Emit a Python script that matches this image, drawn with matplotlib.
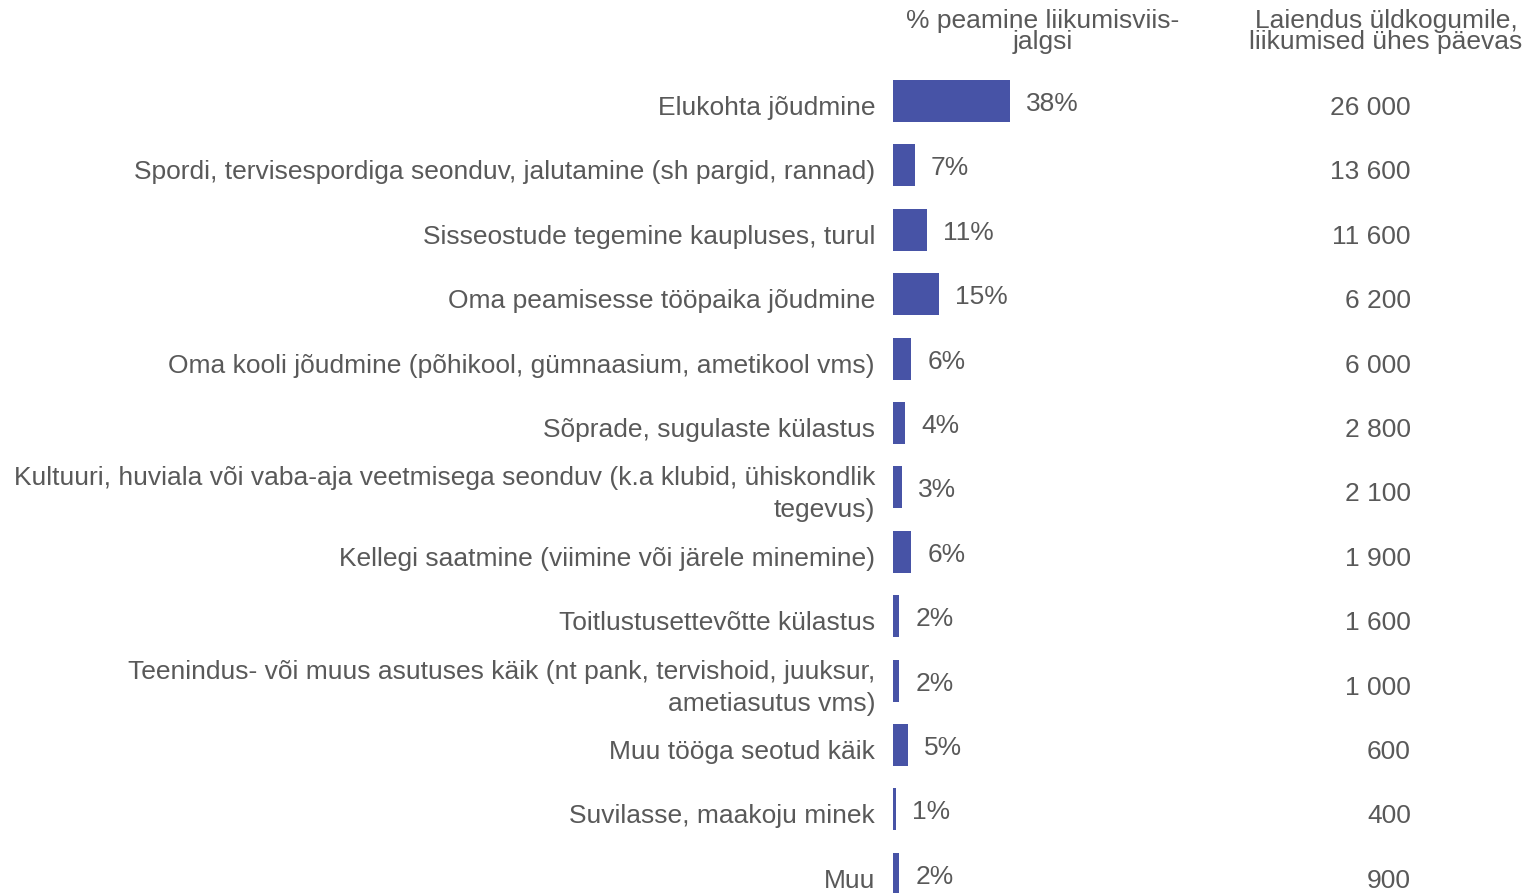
import matplotlib
matplotlib.use("Agg")
import matplotlib.pyplot as plt
import matplotlib.transforms as mtransforms

plt.rcParams['font.family'] = ['Liberation Sans', 'DejaVu Sans']

categories = [
    "Elukohta jõudmine",
    "Spordi, tervisespordiga seonduv, jalutamine (sh pargid, rannad)",
    "Sisseostude tegemine kaupluses, turul",
    "Oma peamisesse tööpaika jõudmine",
    "Oma kooli jõudmine (põhikool, gümnaasium, ametikool vms)",
    "Sõprade, sugulaste külastus",
    "Kultuuri, huviala või vaba-aja veetmisega seonduv (k.a klubid, ühiskondlik\ntegevus)",
    "Kellegi saatmine (viimine või järele minemine)",
    "Toitlustusettevõtte külastus",
    "Teenindus- või muus asutuses käik (nt pank, tervishoid, juuksur,\nametiasutus vms)",
    "Muu tööga seotud käik",
    "Suvilasse, maakoju minek",
    "Muu",
]
walk_share = [38, 7, 11, 15, 6, 4, 3, 6, 2, 2, 5, 1, 2]
trips_per_day = [26000, 13600, 11600, 6200, 6000, 2800, 2100, 1900, 1600, 1000, 600, 400, 900]

header_share = "% peamine liikumisviis-\njalgsi"
header_trips = "Laiendus üldkogumile,\nliikumised ühes päevas"

TEXT = "#595959"
BAR = "#4753A6"
FS = 19

W, H = 1527, 893
fig = plt.figure(figsize=(W / 100, H / 100), dpi=100)

row0, step = 101, 64.4
top_px = row0 - step / 2
bot_px = row0 + step * (len(categories) - 0.5)
left_px = 893
ax = fig.add_axes([left_px / W, 1 - bot_px / H, (W - left_px) / W, (bot_px - top_px) / H])
ax.set_xlim(0, (W - left_px) / 3.08)
ax.set_ylim(len(categories) - 0.5, -0.5)
ax.axis("off")

ypos = list(range(len(categories)))
ax.barh(ypos, walk_share, height=0.65, color=BAR, clip_on=True)

# percentage labels just past the bar ends
pct_tr = mtransforms.offset_copy(ax.transData, fig=fig, x=16, y=-3, units="dots")
for y, v in zip(ypos, walk_share):
    ax.text(v, y, f"{v}%", transform=pct_tr, ha="left", va="center",
            fontsize=FS, color=TEXT)

# category labels on the left, trip counts on the right
lab_tr = mtransforms.offset_copy(
    mtransforms.blended_transform_factory(fig.transFigure, ax.transData),
    fig=fig, x=0, y=-7, units="dots")
for y, name, n in zip(ypos, categories, trips_per_day):
    fig.text(875 / W, y, name, transform=lab_tr, ha="right", va="center",
             fontsize=FS, color=TEXT, linespacing=1.42, clip_on=False)
    fig.text(1411 / W, y, f"{n:,}".replace(",", " "), transform=lab_tr,
             ha="right", va="center", fontsize=FS, color=TEXT)

fig.text(1043 / W, 1 - 31.5 / H, header_share, ha="center", va="center",
         fontsize=FS, color=TEXT, linespacing=0.85)
fig.text(1386 / W, 1 - 31.5 / H, header_trips, ha="center", va="center",
         fontsize=FS, color=TEXT, linespacing=0.85)

fig.savefig("out.png", dpi=100, facecolor="white")
